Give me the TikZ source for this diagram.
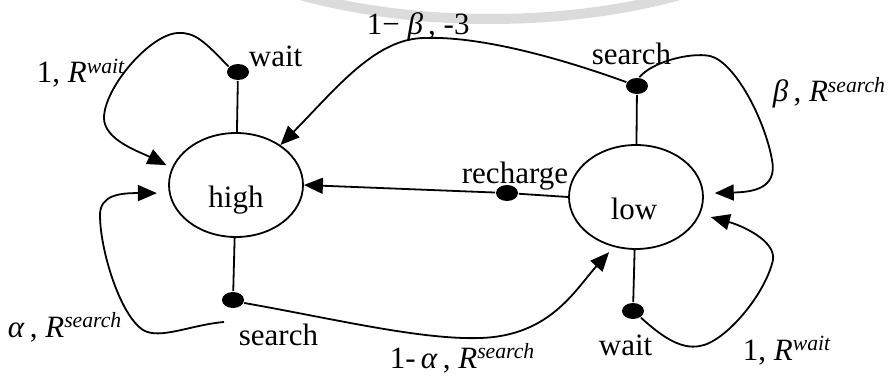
\documentclass[tikz,border=0pt]{standalone}
\usepackage{fontspec}
\setmainfont{Liberation Serif}
\usetikzlibrary{arrows.meta,shapes.geometric}
\newcommand\rsup[1]{\textsuperscript{\textit{#1}}}
\begin{document}
\begin{tikzpicture}[x=1pt,y=-1pt,
  font=\fontsize{31}{34}\selectfont,
  every path/.style={line width=1.8pt},
  state/.style={draw,ellipse,minimum width=134pt,minimum height=104pt,inner sep=0pt},
  act/.style={fill=black,ellipse,minimum width=22pt,minimum height=16pt,inner sep=0pt},
  txt/.style={anchor=base west,inner sep=0pt},
  arr/.style={-{Triangle[length=19pt,width=16pt]}}]
\useasboundingbox (0,0) rectangle (889,382);
% faint arc across the top
\draw[line width=10pt,black!14] (290,-8) .. controls (410,28) and (570,28) .. (690,-8);

% states
\node[state] (high) at (236,185) {};
\node[txt,anchor=base] (highlbl) at (236,208) {high};
\node[state] (low) at (636,197) {};
\node[txt,anchor=base] (lowlbl) at (634,220) {low};

% action points
\node[act] (hw) at (238,72) {};
\node[act] (hs) at (233,300) {};
\node[act] (ls) at (637,86) {};
\node[act] (lw) at (633,311) {};
\node[act] (rc) at (507,193) {};
\coordinate (astart) at (224,322);

% action names
\node[txt] (hwl) at (248,67) {wait};
\node[txt] (hsl) at (238,345) {search};
\node[txt] (lsl) at (591,65) {search};
\node[txt] (lwl) at (598,355) {wait};
\node[txt] (rcl) at (461,184) {recharge};

% stems from states to actions
\draw (hw) -- (high);
\draw (hs) -- (high);
\draw (ls) -- (low);
\draw (lw) -- (low);

% transitions
\draw[arr,shorten >=6pt] (hw.150) .. controls (205,42) and (195,32) .. (178,33)
  .. controls (150,34) and (104,88) .. (104,118)
  .. controls (104,140) and (140,152) .. (high.165);
\draw[arr] (ls.160) .. controls (560,58) and (480,36) .. (425,38)
  .. controls (375,38) and (335,90) .. (high.42);
\draw[arr,shorten >=11pt] (ls.75) .. controls (652,62) and (690,52) .. (710,56)
  .. controls (735,62) and (765,120) .. (772,160)
  .. controls (778,190) and (750,192) .. (low.3);
\draw (low.180) -- (rc);
\draw[arr] (rc) -- (high.0);
\draw[arr,shorten >=12pt] (astart) .. controls (190,325) and (160,340) .. (143,330)
  .. controls (120,315) and (100,250) .. (100,215)
  .. controls (100,195) and (120,193) .. (high.187);
\draw[arr,shorten >=7pt] (hs.-15) .. controls (330,318) and (420,340) .. (480,338)
  .. controls (550,336) and (575,290) .. (low.246);
\draw[arr,shorten >=11pt] (lw.-40) .. controls (660,335) and (680,350) .. (700,346)
  .. controls (725,342) and (765,295) .. (773,260)
  .. controls (776,240) and (740,225) .. (low.-15);

% transition labels
\node[txt] (l1) at (36,83) {1, \textit{R}\rsup{wait}};
\node[txt] (l2) at (366,35) {1− \textit{β}\,, -3};
\node[txt] (l3) at (772,102) {\textit{β}\,, \textit{R}\rsup{search}};
\node[txt] (l4) at (7,337) {\textit{α}\,, \textit{R}\rsup{search}};
\node[txt] (l5) at (389,368) {1-\,\textit{α}\,, \textit{R}\rsup{search}};
\node[txt] (l6) at (742,360) {1, \textit{R}\rsup{wait}};
\end{tikzpicture}
\end{document}
